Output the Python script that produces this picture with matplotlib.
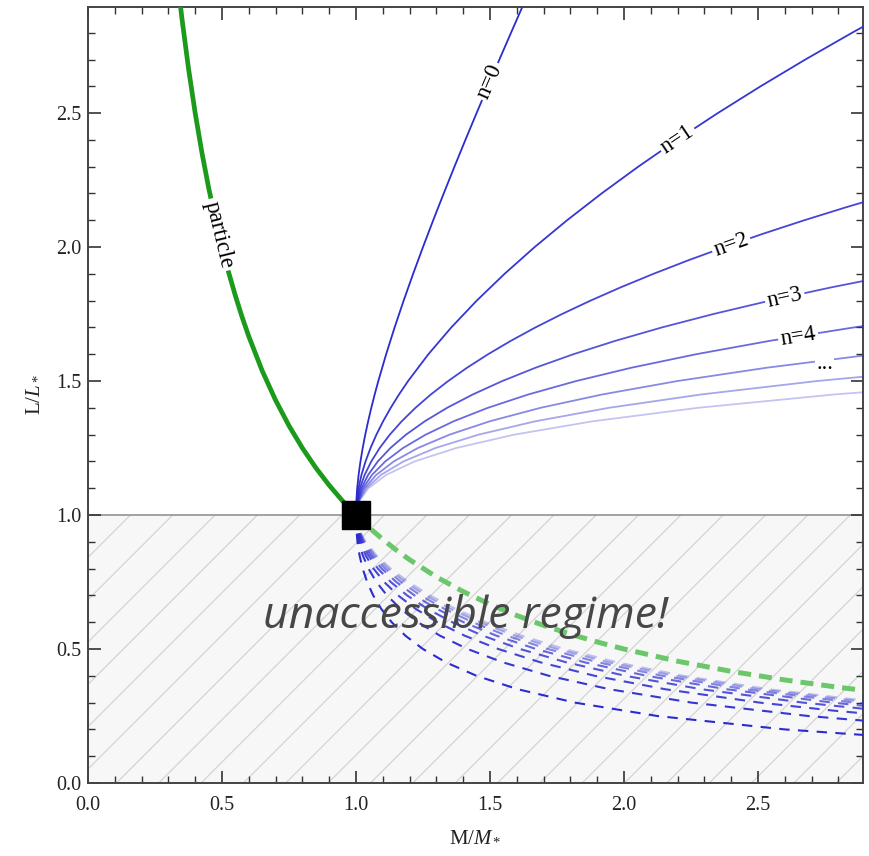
import numpy as np
import matplotlib
matplotlib.use("Agg")
import matplotlib.pyplot as plt
from matplotlib.patches import Rectangle

# ---------------- data ----------------
# particle branch
M_particle = [0.325, 0.35, 0.375, 0.4, 0.425, 0.45, 0.475, 0.5, 0.525, 0.55, 0.575, 0.6, 0.65, 0.7,
              0.75, 0.8, 0.85, 0.9, 0.95, 1.0]
L_particle = [3.0769, 2.8571, 2.6667, 2.5, 2.3529, 2.2222, 2.1053, 2.0, 1.9048, 1.8182, 1.7391,
              1.6667, 1.5385, 1.4286, 1.3333, 1.25, 1.1765, 1.1111, 1.0526, 1.0]
M_particle_dash = [1.0, 1.05, 1.1, 1.15, 1.2, 1.3, 1.4, 1.5, 1.6, 1.7, 1.8, 1.9, 2.0, 2.2, 2.4,
                   2.6, 2.8, 3.0]
L_particle_dash = [1.0, 0.9524, 0.9091, 0.8696, 0.8333, 0.7692, 0.7143, 0.6667, 0.625, 0.5882,
                   0.5556, 0.5263, 0.5, 0.4545, 0.4167, 0.3846, 0.3571, 0.3333]

# black-hole branches, upper (solid) part, n = 0..7
L_up_n0 = [1.0, 1.02, 1.05, 1.1, 1.15, 1.2, 1.25, 1.3, 1.35, 1.4, 1.45, 1.5, 1.6, 1.7, 1.8, 1.9,
           2.0, 2.1, 2.2, 2.3, 2.4, 2.5, 2.6, 2.7, 2.8, 2.9, 3.0]
M_up_n0 = [1.0, 1.0002, 1.0012, 1.0045, 1.0098, 1.0167, 1.025, 1.0346, 1.0454, 1.0571, 1.0698,
           1.0833, 1.1125, 1.1441, 1.1778, 1.2132, 1.25, 1.2881, 1.3273, 1.3674, 1.4083, 1.45,
           1.4923, 1.5352, 1.5786, 1.6224, 1.6667]
L_up_n1 = [1.0, 1.02, 1.05, 1.1, 1.15, 1.2, 1.25, 1.3, 1.35, 1.4, 1.45, 1.5, 1.6, 1.7, 1.8, 1.9,
           2.0, 2.1, 2.2, 2.3, 2.4, 2.5, 2.6, 2.7, 2.8, 2.9]
M_up_n1 = [1.0, 1.0004, 1.0024, 1.0094, 1.0205, 1.0356, 1.0542, 1.0762, 1.1013, 1.1295, 1.1606,
           1.1944, 1.27, 1.3555, 1.4504, 1.5542, 1.6667, 1.7875, 1.9164, 2.0532, 2.1978, 2.35,
           2.5097, 2.6769, 2.8514, 3.0332]
L_up_n2 = [1.0, 1.02, 1.05, 1.1, 1.15, 1.2, 1.25, 1.3, 1.35, 1.4, 1.45, 1.5, 1.55, 1.6, 1.65, 1.7,
           1.75, 1.8, 1.85, 1.9, 1.95, 2.0, 2.05, 2.1, 2.15, 2.2]
M_up_n2 = [1.0, 1.0006, 1.0037, 1.0146, 1.0324, 1.057, 1.0883, 1.1262, 1.1707, 1.2217, 1.2794,
           1.3438, 1.4148, 1.4928, 1.5776, 1.6694, 1.7684, 1.8747, 1.9883, 2.1095, 2.2383, 2.375,
           2.5196, 2.6724, 2.8334, 3.0029]
L_up_n3 = [1.0, 1.02, 1.05, 1.1, 1.15, 1.2, 1.25, 1.3, 1.35, 1.4, 1.45, 1.5, 1.55, 1.6, 1.65, 1.7,
           1.75, 1.8, 1.85, 1.9]
M_up_n3 = [1.0, 1.0008, 1.005, 1.0201, 1.0455, 1.0814, 1.1283, 1.1866, 1.2569, 1.3397, 1.4358,
           1.5458, 1.6705, 1.8107, 1.9673, 2.141, 2.3329, 2.544, 2.7751, 3.0275]
L_up_n4 = [1.0, 1.02, 1.05, 1.1, 1.15, 1.2, 1.25, 1.3, 1.35, 1.4, 1.45, 1.5, 1.55, 1.6, 1.65, 1.7,
           1.75]
M_up_n4 = [1.0, 1.001, 1.0064, 1.026, 1.0599, 1.1092, 1.1753, 1.2599, 1.3646, 1.4916, 1.643,
           1.8212, 2.0287, 2.2685, 2.5434, 2.8566, 3.2117]
L_up_n5 = [1.0, 1.02, 1.05, 1.1, 1.15, 1.2, 1.25, 1.3, 1.35, 1.4, 1.45, 1.5, 1.55, 1.6]
M_up_n5 = [1.0, 1.0012, 1.0078, 1.0323, 1.0758, 1.1409, 1.2307, 1.3489, 1.4997, 1.6879, 1.9189,
           2.1987, 2.534, 2.9325]
L_up_n6 = [1.0, 1.02, 1.05, 1.1, 1.15, 1.2, 1.25, 1.3, 1.35, 1.4, 1.45, 1.5, 1.55]
M_up_n6 = [1.0, 1.0014, 1.0092, 1.039, 1.0934, 1.1771, 1.296, 1.4574, 1.6697, 1.9427, 2.288,
           2.7191, 3.2513]
L_up_n7 = [1.0, 1.02, 1.05, 1.1, 1.15, 1.2, 1.25, 1.3, 1.35, 1.4, 1.45, 1.5]
M_up_n7 = [1.0, 1.0016, 1.0107, 1.0463, 1.1128, 1.2185, 1.3734, 1.5901, 1.8843, 2.2747, 2.7842,
           3.4403]

# black-hole branches, lower (dashed, unaccessible) part, n = 0..7
L_low_n0 = [1.0, 0.98, 0.95, 0.9, 0.85, 0.8, 0.75, 0.7, 0.65, 0.6, 0.55, 0.5, 0.45, 0.4, 0.35,
            0.3, 0.25, 0.2, 0.17]
M_low_n0 = [1.0, 1.0002, 1.0013, 1.0056, 1.0132, 1.025, 1.0417, 1.0643, 1.0942, 1.1333, 1.1841,
            1.25, 1.3361, 1.45, 1.6036, 1.8167, 2.125, 2.6, 3.0262]
L_low_n1 = [1.0, 0.98, 0.95, 0.9, 0.85, 0.8, 0.75, 0.7, 0.65, 0.6, 0.55, 0.5, 0.45, 0.4, 0.35,
            0.3, 0.25, 0.22]
M_low_n1 = [1.0, 1.0004, 1.0026, 1.0107, 1.0251, 1.0467, 1.0764, 1.1157, 1.1665, 1.2311, 1.313,
            1.4167, 1.549, 1.72, 1.9456, 2.2522, 2.6875, 3.0464]
L_low_n2 = [1.0, 0.98, 0.95, 0.9, 0.85, 0.8, 0.75, 0.7, 0.65, 0.6, 0.55, 0.5, 0.45, 0.4, 0.35,
            0.3, 0.27, 0.25]
M_low_n2 = [1.0, 1.0006, 1.0038, 1.0156, 1.0359, 1.0655, 1.1055, 1.1572, 1.2225, 1.304, 1.4052,
            1.5313, 1.6894, 1.891, 2.1536, 2.5068, 2.7827, 3.0039]
L_low_n3 = [1.0, 0.98, 0.95, 0.9, 0.85, 0.8, 0.75, 0.7, 0.65, 0.6, 0.55, 0.5, 0.45, 0.4, 0.35,
            0.3, 0.27]
M_low_n3 = [1.0, 1.0008, 1.005, 1.0201, 1.0456, 1.0819, 1.1299, 1.1909, 1.2665, 1.3593, 1.4728,
            1.6125, 1.786, 2.0051, 2.2887, 2.6683, 2.964]
L_low_n4 = [1.0, 0.98, 0.95, 0.9, 0.85, 0.8, 0.75, 0.7, 0.65, 0.6, 0.55, 0.5, 0.45, 0.4, 0.35,
            0.3, 0.28]
M_low_n4 = [1.0, 1.001, 1.0062, 1.0243, 1.0543, 1.0963, 1.1507, 1.2185, 1.3014, 1.4018, 1.5235,
            1.6719, 1.8549, 2.085, 2.3818, 2.7782, 2.9765]
L_low_n5 = L_low_n4
M_low_n5 = [1.0, 1.0012, 1.0073, 1.0283, 1.0623, 1.1089, 1.1683, 1.2413, 1.3295, 1.4352, 1.5624,
            1.7165, 1.9059, 2.1434, 2.4492, 2.8572, 3.0613]
L_low_n6 = L_low_n4
M_low_n6 = [1.0, 1.0014, 1.0083, 1.032, 1.0695, 1.12, 1.1834, 1.2603, 1.3523, 1.4618, 1.5928,
            1.751, 1.9449, 2.1877, 2.5001, 2.9167, 3.125]
L_low_n7 = L_low_n4
M_low_n7 = [1.0, 1.0016, 1.0094, 1.0355, 1.076, 1.1298, 1.1963, 1.2762, 1.3711, 1.4833, 1.6171,
            1.7782, 1.9755, 2.2223, 2.5397, 2.963, 3.1746]

curve_labels = ["n=0", "n=1", "n=2", "n=3", "n=4"]
label_M = [1.50, 2.20, 2.40, 2.60, 2.65]          # where the labels sit along the curves
label_rot = [66.5, 34.0, 19.6, 12.5, 9.2]
dots_M, dots_L = 2.75, 1.56

up_M = [M_up_n0, M_up_n1, M_up_n2, M_up_n3, M_up_n4, M_up_n5, M_up_n6, M_up_n7]
up_L = [L_up_n0, L_up_n1, L_up_n2, L_up_n3, L_up_n4, L_up_n5, L_up_n6, L_up_n7]
low_M = [M_low_n0, M_low_n1, M_low_n2, M_low_n3, M_low_n4, M_low_n5, M_low_n6, M_low_n7]
low_L = [L_low_n0, L_low_n1, L_low_n2, L_low_n3, L_low_n4, L_low_n5, L_low_n6, L_low_n7]

# ---------------- style ----------------
plt.rcParams["font.family"] = ["Liberation Serif", "DejaVu Serif"]
plt.rcParams["mathtext.fontset"] = "custom"
plt.rcParams["mathtext.rm"] = "Liberation Serif"
plt.rcParams["mathtext.it"] = "Liberation Serif:italic"

XMAX, YMAX = 2.892, 2.896
fig = plt.figure(figsize=(8.70, 8.56), dpi=100)
ax = fig.add_axes([88 / 870, (856 - 783) / 856, 775 / 870, 776 / 856])
ax.set_xlim(0, XMAX)
ax.set_ylim(0, YMAX)

# unaccessible region
rect = Rectangle((0, 0), XMAX, 1.0, facecolor="#f7f7f7", edgecolor="none", zorder=0)
ax.add_patch(rect)
for c in np.arange(-1.0, 3.0, 0.158):
    ln = ax.axline((c, 0), slope=1.0, color="#d4d4d4", lw=0.9, zorder=0.5)
    ln.set_clip_path(rect)
ax.axhline(1.0, color="#8a8a8a", lw=1.1, zorder=1)

blue = (0.17, 0.17, 0.82)
alphas = [1.0, 0.95, 0.88, 0.8, 0.7, 0.56, 0.42, 0.28]
for i in range(8):
    ax.plot(up_M[i], up_L[i], color=blue, alpha=alphas[i], lw=1.3, zorder=3)
    ax.plot(low_M[i], low_L[i], color=blue, alpha=alphas[i], lw=1.5,
            ls=(0, (5, 4)), zorder=3)

ax.plot(M_particle, L_particle, color="#1c9a1c", lw=3.4, zorder=4, solid_capstyle="butt")
ax.plot(M_particle_dash, L_particle_dash, color="#6cc76c", lw=3.6, ls=(0, (2.6, 1.6)), zorder=4)

ax.plot([1.0], [1.0], marker="s", color="black", markersize=19.5, zorder=6)

# curve labels
for i, txt in enumerate(curve_labels):
    Mi = label_M[i]
    Li = float(np.interp(Mi, up_M[i], up_L[i]))
    ax.text(Mi, Li, txt, fontsize=16.5, rotation=label_rot[i], rotation_mode="anchor",
            ha="center", va="center", zorder=5,
            bbox=dict(boxstyle="square,pad=0.1", fc="white", ec="none"))
ax.text(dots_M, dots_L, "...", fontsize=16, ha="center", va="center", zorder=5,
        bbox=dict(boxstyle="square,pad=0.05", fc="white", ec="none"))
pM = 0.489
pL = float(np.interp(pM, M_particle, L_particle))
ax.text(pM, pL, "particle", fontsize=16.5, rotation=-76.5, rotation_mode="anchor",
        ha="center", va="center", zorder=5,
        bbox=dict(boxstyle="square,pad=0.12", fc="white", ec="none"))

ax.text(1.41, 0.577, "unaccessible regime!", fontsize=32, style="italic",
        family=["Open Sans", "DejaVu Sans"], color="#474747", ha="center", va="baseline",
        zorder=7)

# axes
ax.set_xticks([0.0, 0.5, 1.0, 1.5, 2.0, 2.5])
ax.set_yticks([0.0, 0.5, 1.0, 1.5, 2.0, 2.5])
ax.set_xticks(np.arange(0, 2.9, 0.1), minor=True)
ax.set_yticks(np.arange(0, 2.9, 0.1), minor=True)
ax.tick_params(which="both", direction="in", top=True, right=True, colors="#333333",
               labelsize=14.5, labelcolor="#222222")
ax.tick_params(which="major", length=9, width=1.2)
ax.tick_params(which="minor", length=5, width=1.0)
ax.tick_params(axis="x", pad=9)
ax.tick_params(axis="y", pad=5)
for s in ax.spines.values():
    s.set_color("#444444")
    s.set_linewidth(1.4)
ax.set_xlabel(r"M/$M_*$", fontsize=15, labelpad=9, color="#222222")
ax.set_ylabel(r"L/$L_*$", fontsize=15, labelpad=10, color="#222222")

fig.savefig("out.png", dpi=100)
